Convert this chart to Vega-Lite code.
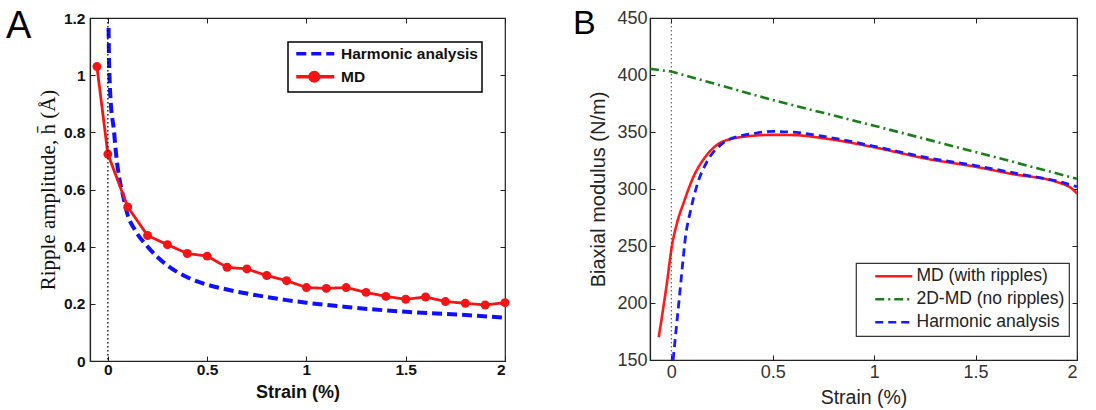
{
  "$schema": "https://vega.github.io/schema/vega-lite/v6.json",
  "background": "white",
  "padding": {"left": 5, "top": 6, "right": 0, "bottom": 0},
  "spacing": 61,
  "config": {
    "view": {"stroke": "#222", "strokeWidth": 1.2},
    "axis": {"grid": false, "domainColor": "#222", "tickColor": "#222", "labelColor": "#111", "titleColor": "#111", "domainWidth": 1.2, "tickWidth": 1}
  },
  "datasets": {
    "ripA": [
      {"strain": 0.0035, "h": 1.165, "series": "Harmonic analysis"},
      {"strain": 0.006, "h": 1.05, "series": "Harmonic analysis"},
      {"strain": 0.009, "h": 0.98, "series": "Harmonic analysis"},
      {"strain": 0.015, "h": 0.9, "series": "Harmonic analysis"},
      {"strain": 0.03, "h": 0.81, "series": "Harmonic analysis"},
      {"strain": 0.042, "h": 0.72, "series": "Harmonic analysis"},
      {"strain": 0.06, "h": 0.63, "series": "Harmonic analysis"},
      {"strain": 0.076, "h": 0.58, "series": "Harmonic analysis"},
      {"strain": 0.1, "h": 0.51, "series": "Harmonic analysis"},
      {"strain": 0.135, "h": 0.46, "series": "Harmonic analysis"},
      {"strain": 0.2, "h": 0.4, "series": "Harmonic analysis"},
      {"strain": 0.3, "h": 0.334, "series": "Harmonic analysis"},
      {"strain": 0.4, "h": 0.293, "series": "Harmonic analysis"},
      {"strain": 0.5, "h": 0.267, "series": "Harmonic analysis"},
      {"strain": 0.6, "h": 0.25, "series": "Harmonic analysis"},
      {"strain": 0.7, "h": 0.236, "series": "Harmonic analysis"},
      {"strain": 0.8, "h": 0.224, "series": "Harmonic analysis"},
      {"strain": 0.9, "h": 0.213, "series": "Harmonic analysis"},
      {"strain": 1.0, "h": 0.204, "series": "Harmonic analysis"},
      {"strain": 1.2, "h": 0.189, "series": "Harmonic analysis"},
      {"strain": 1.5, "h": 0.172, "series": "Harmonic analysis"},
      {"strain": 1.8, "h": 0.161, "series": "Harmonic analysis"},
      {"strain": 2.0, "h": 0.151, "series": "Harmonic analysis"},
      {"strain": -0.055, "h": 1.03, "series": "MD"},
      {"strain": 0.0, "h": 0.724, "series": "MD"},
      {"strain": 0.1, "h": 0.539, "series": "MD"},
      {"strain": 0.2, "h": 0.439, "series": "MD"},
      {"strain": 0.3, "h": 0.407, "series": "MD"},
      {"strain": 0.4, "h": 0.376, "series": "MD"},
      {"strain": 0.5, "h": 0.367, "series": "MD"},
      {"strain": 0.6, "h": 0.328, "series": "MD"},
      {"strain": 0.7, "h": 0.322, "series": "MD"},
      {"strain": 0.8, "h": 0.299, "series": "MD"},
      {"strain": 0.9, "h": 0.281, "series": "MD"},
      {"strain": 1.0, "h": 0.257, "series": "MD"},
      {"strain": 1.1, "h": 0.254, "series": "MD"},
      {"strain": 1.2, "h": 0.257, "series": "MD"},
      {"strain": 1.3, "h": 0.24, "series": "MD"},
      {"strain": 1.4, "h": 0.226, "series": "MD"},
      {"strain": 1.5, "h": 0.216, "series": "MD"},
      {"strain": 1.6, "h": 0.224, "series": "MD"},
      {"strain": 1.7, "h": 0.208, "series": "MD"},
      {"strain": 1.8, "h": 0.202, "series": "MD"},
      {"strain": 1.9, "h": 0.196, "series": "MD"},
      {"strain": 2.0, "h": 0.204, "series": "MD"}
    ],
    "modB": [
      {"strain": -0.062, "E": 170, "series": "MD (with ripples)"},
      {"strain": -0.022, "E": 217, "series": "MD (with ripples)"},
      {"strain": 0.003, "E": 250, "series": "MD (with ripples)"},
      {"strain": 0.028, "E": 270, "series": "MD (with ripples)"},
      {"strain": 0.061, "E": 288, "series": "MD (with ripples)"},
      {"strain": 0.11, "E": 311, "series": "MD (with ripples)"},
      {"strain": 0.176, "E": 330, "series": "MD (with ripples)"},
      {"strain": 0.259, "E": 342, "series": "MD (with ripples)"},
      {"strain": 0.39, "E": 346.5, "series": "MD (with ripples)"},
      {"strain": 0.5, "E": 347.5, "series": "MD (with ripples)"},
      {"strain": 0.6, "E": 347.3, "series": "MD (with ripples)"},
      {"strain": 0.77, "E": 344, "series": "MD (with ripples)"},
      {"strain": 1.0, "E": 336.6, "series": "MD (with ripples)"},
      {"strain": 1.26, "E": 326.5, "series": "MD (with ripples)"},
      {"strain": 1.5, "E": 319.5, "series": "MD (with ripples)"},
      {"strain": 1.67, "E": 313.5, "series": "MD (with ripples)"},
      {"strain": 1.92, "E": 305, "series": "MD (with ripples)"},
      {"strain": 1.97, "E": 301, "series": "MD (with ripples)"},
      {"strain": 2.0, "E": 296, "series": "MD (with ripples)"},
      {"strain": -0.105, "E": 405.5, "series": "2D-MD (no ripples)"},
      {"strain": 0.0, "E": 403, "series": "2D-MD (no ripples)"},
      {"strain": 0.5, "E": 378, "series": "2D-MD (no ripples)"},
      {"strain": 1.0, "E": 355.5, "series": "2D-MD (no ripples)"},
      {"strain": 1.5, "E": 332.5, "series": "2D-MD (no ripples)"},
      {"strain": 2.0, "E": 309, "series": "2D-MD (no ripples)"},
      {"strain": 0.009, "E": 150, "series": "Harmonic analysis"},
      {"strain": 0.021, "E": 171.7, "series": "Harmonic analysis"},
      {"strain": 0.037, "E": 200, "series": "Harmonic analysis"},
      {"strain": 0.053, "E": 229, "series": "Harmonic analysis"},
      {"strain": 0.07, "E": 258, "series": "Harmonic analysis"},
      {"strain": 0.095, "E": 281, "series": "Harmonic analysis"},
      {"strain": 0.128, "E": 304, "series": "Harmonic analysis"},
      {"strain": 0.176, "E": 324, "series": "Harmonic analysis"},
      {"strain": 0.243, "E": 338.7, "series": "Harmonic analysis"},
      {"strain": 0.343, "E": 346.8, "series": "Harmonic analysis"},
      {"strain": 0.408, "E": 348.8, "series": "Harmonic analysis"},
      {"strain": 0.5, "E": 350.5, "series": "Harmonic analysis"},
      {"strain": 0.6, "E": 349.8, "series": "Harmonic analysis"},
      {"strain": 0.77, "E": 345.5, "series": "Harmonic analysis"},
      {"strain": 1.0, "E": 337.5, "series": "Harmonic analysis"},
      {"strain": 1.26, "E": 327.5, "series": "Harmonic analysis"},
      {"strain": 1.5, "E": 320.5, "series": "Harmonic analysis"},
      {"strain": 1.75, "E": 312, "series": "Harmonic analysis"},
      {"strain": 1.9, "E": 307, "series": "Harmonic analysis"},
      {"strain": 2.0, "E": 302, "series": "Harmonic analysis"}
    ]
  },
  "resolve": {"scale": {"color": "independent", "strokeDash": "independent"}, "legend": {"color": "independent", "strokeDash": "independent"}},
  "hconcat": [
    {
      "width": 415,
      "height": 343,
      "title": {"text": "A", "font": "Liberation Sans", "fontSize": 38, "fontWeight": "normal", "color": "#000", "anchor": "start", "frame": "group", "baseline": "alphabetic", "offset": -65, "dx": -84, "dy": 0},
      "data": {"name": "ripA"},
      "layer": [
        {
          "transform": [{"filter": "datum.series === 'Harmonic analysis'"}],
          "mark": {"type": "line", "strokeWidth": 4, "interpolate": "monotone", "clip": true},
          "encoding": {
            "x": {"field": "strain", "type": "quantitative", "scale": {"domain": [-0.09, 2], "nice": false, "zero": false},
              "axis": {"orient": "bottom", "values": [0, 0.5, 1, 1.5, 2], "format": "~g", "tickSize": -5, "labelPadding": 6, "labelFont": "Liberation Sans", "labelFontWeight": "bold", "labelFontSize": 15.5, "labelColor": "#111", "title": "Strain (%)", "titleFont": "Liberation Sans", "titleFontWeight": "bold", "titleFontSize": 18, "titlePadding": 6}},
            "y": {"field": "h", "type": "quantitative", "scale": {"domain": [0, 1.2], "nice": false},
              "axis": {"orient": "left", "values": [0, 0.2, 0.4, 0.6, 0.8, 1, 1.2], "format": "~g", "tickSize": -5, "labelPadding": 10, "labelFont": "Liberation Sans", "labelFontWeight": "bold", "labelFontSize": 15.5, "title": "Ripple amplitude, h̄ (Å)", "titleFont": "Liberation Serif", "titleFontWeight": "normal", "titleFontSize": 21, "titlePadding": 5}},
            "color": {"field": "series", "type": "nominal", "scale": {"domain": ["Harmonic analysis", "MD"], "range": ["#1010ff", "#f31515"]},
              "legend": {"title": null, "orient": "none", "legendX": 198, "legendY": 24, "strokeColor": "#000", "fillColor": "white", "padding": 4, "labelFont": "Liberation Sans", "labelFontWeight": "bold", "labelFontSize": 15.5, "labelColor": "#111", "labelLimit": 300, "labelOffset": 33.5, "symbolType": "M-0.7,0L6.9,0", "symbolSize": 100, "symbolStrokeWidth": 3.5, "rowPadding": 2,
                "encode": {"legend": {"update": {"strokeWidth": {"value": 1.5}}}, "symbols": {"update": {"shape": {"signal": "datum.value === 'MD' ? 'M-0.7,0L6.9,0M3.75,0L3.636,0.425L3.325,0.736L2.9,0.85L2.475,0.736L2.164,0.425L2.05,0L2.164,-0.425L2.475,-0.736L2.9,-0.85L3.325,-0.736L3.636,-0.425Z' : 'M-0.7,0L6.9,0'"}, "fill": {"signal": "datum.value === 'MD' ? '#f31515' : 'transparent'"}}}}}},
            "strokeDash": {"field": "series", "type": "nominal", "scale": {"domain": ["Harmonic analysis", "MD"], "range": [[10, 5], [1, 0]]},
              "legend": {"title": null, "orient": "none", "legendX": 198, "legendY": 24, "strokeColor": "#000", "fillColor": "white", "padding": 4, "labelFont": "Liberation Sans", "labelFontWeight": "bold", "labelFontSize": 15.5, "labelColor": "#111", "labelLimit": 300, "labelOffset": 33.5, "symbolType": "M-0.7,0L6.9,0", "symbolSize": 100, "symbolStrokeWidth": 3.5, "rowPadding": 2,
                "encode": {"legend": {"update": {"strokeWidth": {"value": 1.5}}}, "symbols": {"update": {"shape": {"signal": "datum.value === 'MD' ? 'M-0.7,0L6.9,0M3.75,0L3.636,0.425L3.325,0.736L2.9,0.85L2.475,0.736L2.164,0.425L2.05,0L2.164,-0.425L2.475,-0.736L2.9,-0.85L3.325,-0.736L3.636,-0.425Z' : 'M-0.7,0L6.9,0'"}, "fill": {"signal": "datum.value === 'MD' ? '#f31515' : 'transparent'"}}}}}}
          }
        },
        {
          "transform": [{"filter": "datum.series === 'MD'"}],
          "mark": {"type": "line", "strokeWidth": 2.8, "clip": true},
          "encoding": {
            "x": {"field": "strain", "type": "quantitative", "axis": null},
            "y": {"field": "h", "type": "quantitative", "axis": null},
            "color": {"field": "series", "type": "nominal"},
            "strokeDash": {"field": "series", "type": "nominal"}
          }
        },
        {
          "transform": [{"filter": "datum.series === 'MD'"}],
          "mark": {"type": "circle", "size": 80, "color": "#f31515", "opacity": 1},
          "encoding": {
            "x": {"field": "strain", "type": "quantitative", "axis": {"orient": "top", "values": [0, 0.5, 1, 1.5, 2], "labels": false, "domain": false, "tickSize": -5, "title": null}},
            "y": {"field": "h", "type": "quantitative", "axis": {"orient": "right", "values": [0, 0.2, 0.4, 0.6, 0.8, 1, 1.2], "labels": false, "domain": false, "tickSize": -5, "title": null}}
          }
        },
        {
          "data": {"values": [{}]},
          "mark": {"type": "rule", "color": "#000", "strokeWidth": 1.3, "strokeDash": [1.5, 2.5]},
          "encoding": {"x": {"datum": 0, "type": "quantitative", "axis": null}}
        }
      ],
      "resolve": {"axis": {"x": "independent", "y": "independent"}}
    },
    {
      "width": 427,
      "height": 342,
      "title": {"text": "B", "font": "Liberation Sans", "fontSize": 34, "fontWeight": "normal", "color": "#000", "anchor": "start", "frame": "group", "baseline": "alphabetic", "offset": -59, "dx": -77, "dy": 0},
      "data": {"name": "modB"},
      "layer": [
        {
          "transform": [{"filter": "datum.series === 'MD (with ripples)'"}],
          "mark": {"type": "line", "strokeWidth": 2.6, "interpolate": "monotone", "clip": true},
          "encoding": {
            "x": {"field": "strain", "type": "quantitative", "scale": {"domain": [-0.105, 2], "nice": false, "zero": false},
              "axis": {"orient": "bottom", "values": [0, 0.5, 1, 1.5, 2], "format": "~g", "tickSize": -5, "labelPadding": 8, "labelFont": "Liberation Sans", "labelFontSize": 18, "labelColor": "#333", "title": "Strain (%)", "titleFont": "Liberation Sans", "titleFontWeight": "normal", "titleFontSize": 19.5, "titleColor": "#222", "titlePadding": 7}},
            "y": {"field": "E", "type": "quantitative", "scale": {"domain": [150, 450], "nice": false, "zero": false},
              "axis": {"orient": "left", "values": [150, 200, 250, 300, 350, 400, 450], "format": "d", "tickSize": -5, "labelPadding": 8, "labelFont": "Liberation Sans", "labelFontSize": 18, "labelColor": "#333", "title": "Biaxial modulus (N/m)", "titleFont": "Liberation Sans", "titleFontWeight": "normal", "titleFontSize": 20, "titleColor": "#222", "titlePadding": 8}},
            "color": {"field": "series", "type": "nominal", "scale": {"domain": ["MD (with ripples)", "2D-MD (no ripples)", "Harmonic analysis"], "range": ["#ff1a1a", "#1a7f1a", "#1a1aff"]},
              "legend": {"title": null, "orient": "none", "legendX": 206, "legendY": 245, "strokeColor": "#333", "fillColor": "white", "padding": 4.5, "labelFont": "Liberation Sans", "labelFontSize": 17.5, "labelColor": "#222", "labelLimit": 300, "labelOffset": 38.5, "symbolType": "M1.2,0L8.6,0", "symbolSize": 100, "symbolStrokeWidth": 2.6, "rowPadding": 4,
                "encode": {"legend": {"update": {"strokeWidth": {"value": 1.2}}}}}},
            "strokeDash": {"field": "series", "type": "nominal", "scale": {"domain": ["MD (with ripples)", "2D-MD (no ripples)", "Harmonic analysis"], "range": [[1, 0], [9, 4, 2, 4], [8, 5]]},
              "legend": {"title": null, "orient": "none", "legendX": 206, "legendY": 245, "strokeColor": "#333", "fillColor": "white", "padding": 4.5, "labelFont": "Liberation Sans", "labelFontSize": 17.5, "labelColor": "#222", "labelLimit": 300, "labelOffset": 38.5, "symbolType": "M1.2,0L8.6,0", "symbolSize": 100, "symbolStrokeWidth": 2.6, "rowPadding": 4,
                "encode": {"legend": {"update": {"strokeWidth": {"value": 1.2}}}}}}
          }
        },
        {
          "transform": [{"filter": "datum.series === '2D-MD (no ripples)'"}],
          "mark": {"type": "line", "strokeWidth": 2.6, "clip": true},
          "encoding": {
            "x": {"field": "strain", "type": "quantitative", "axis": {"orient": "top", "values": [0, 0.5, 1, 1.5, 2], "labels": false, "domain": false, "tickSize": -5, "title": null}},
            "y": {"field": "E", "type": "quantitative", "axis": {"orient": "right", "values": [150, 200, 250, 300, 350, 400, 450], "labels": false, "domain": false, "tickSize": -5, "title": null}},
            "color": {"field": "series", "type": "nominal"},
            "strokeDash": {"field": "series", "type": "nominal"}
          }
        },
        {
          "transform": [{"filter": "datum.series === 'Harmonic analysis'"}],
          "mark": {"type": "line", "strokeWidth": 2.8, "interpolate": "monotone", "clip": true},
          "encoding": {
            "x": {"field": "strain", "type": "quantitative", "axis": null},
            "y": {"field": "E", "type": "quantitative", "axis": null},
            "color": {"field": "series", "type": "nominal"},
            "strokeDash": {"field": "series", "type": "nominal"}
          }
        },
        {
          "data": {"values": [{}]},
          "mark": {"type": "rule", "color": "#444", "strokeWidth": 1, "strokeDash": [1.5, 2.5]},
          "encoding": {"x": {"datum": 0, "type": "quantitative", "axis": null}}
        }
      ],
      "resolve": {"axis": {"x": "independent", "y": "independent"}}
    }
  ]
}
